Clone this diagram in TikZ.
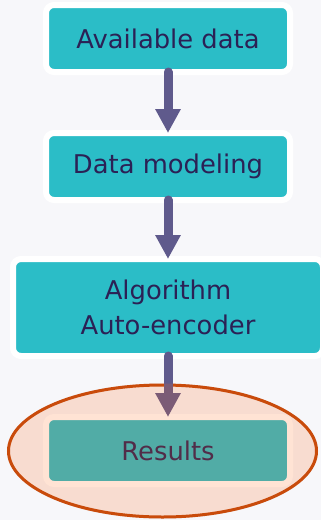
\documentclass[tikz,border=0pt]{standalone}
\usepackage{fontspec}
\setmainfont{DejaVu Sans}
\usetikzlibrary{positioning, shapes.geometric, arrows.meta}
\definecolor{bgcol}{RGB}{247,247,250}
\definecolor{boxcyan}{RGB}{43,189,199}
\definecolor{inkblue}{RGB}{43,33,85}
\definecolor{flowpurple}{RGB}{95,90,140}
\definecolor{ringedge}{RGB}{190,70,10}
\definecolor{ringtone}{RGB}{255,100,20}
\tikzset{
  stage/.style={rectangle, rounded corners=8pt, fill=boxcyan, draw=white,
    line width=6pt, outer sep=0pt, inner sep=0pt, text=inkblue, align=center,
    minimum width=244pt, minimum height=67pt, font=\fontsize{25.8}{35}\selectfont},
  flow/.style={draw=flowpurple, line width=9pt, line cap=round,
    -{Triangle[width=24pt,length=24pt]}},
  ring/.style={ellipse, draw=ringedge, line width=3pt, inner sep=0pt,
    minimum width=308pt, minimum height=132pt},
  ringtint/.style={ellipse, fill=ringtone, fill opacity=0.18, inner sep=0pt,
    minimum width=311pt, minimum height=135pt}
}

\begin{document}
\begin{tikzpicture}[x=1pt, y=1pt]
\useasboundingbox[fill=bgcol] (0,0) rectangle (321,-520);
\node[ring] (ring) at (162.5,-451) {};
% the four stages
\node[stage] (avail) at (168,-38.5) {Available data};
\node[stage, below=61pt of avail] (model) {Data modeling};
\node[stage, below=59pt of model, minimum width=310pt, minimum height=97pt] (algo) {Algorithm\\Auto-encoder};
\node[stage, below=61pt of algo] (results) {Results};
\draw[flow] (avail) -- (model);
\draw[flow] (model) -- (algo);
\draw[flow] (algo) -- (results);
% tint over the last stage
\node[ringtint] (tint) at (ring) {};
\end{tikzpicture}
\end{document}
